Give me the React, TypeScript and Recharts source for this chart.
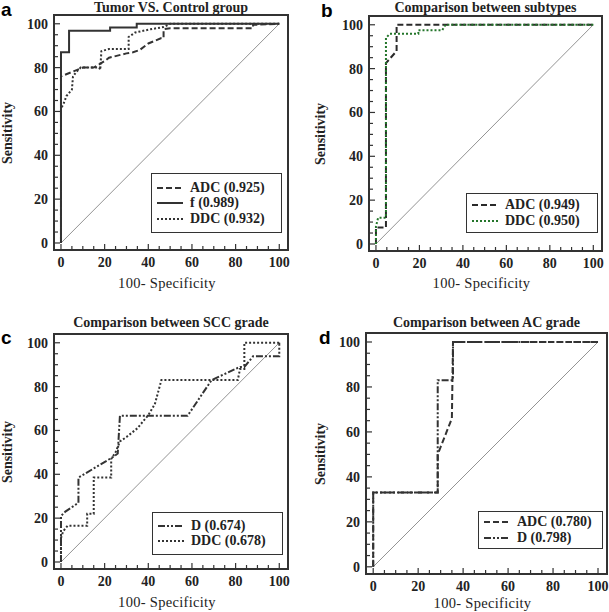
import { LineChart, Line, XAxis, YAxis, ReferenceArea, ReferenceLine } from 'recharts'

type Pt = [number, number]

// --- values (100-specificity, sensitivity) ---
const tumorAdc: Pt[] = [[0, 0], [0, 76], [5, 78], [10, 80], [15, 80], [20, 83], [22, 84.5], [30, 86.5], [33, 87], [36, 88], [40, 91], [46, 93.5], [47, 93.5], [47, 97.5], [50, 98], [88, 98], [88, 99.5], [100, 100]]
const tumorF: Pt[] = [[0, 0], [0, 87], [3.7, 87], [3.7, 96.8], [22.5, 96.8], [22.5, 98.3], [34.7, 98.3], [34.7, 100], [100, 100]]
const tumorDdc: Pt[] = [[0, 0], [0, 61.5], [1, 63], [2.5, 67], [5, 70], [5.5, 76], [7, 78], [9, 80], [17.5, 80], [18, 79], [18.5, 87.5], [22, 88.5], [31, 88.5], [31, 94], [34, 96], [41, 97.5], [47, 98.5], [50, 100], [100, 100]]

const subAdc: Pt[] = [[0, 0], [0, 7.5], [4.6, 7.5], [4.6, 82.5], [9.5, 88], [9.5, 100], [100, 100]]
const subDdc: Pt[] = [[0, 0], [0, 8], [1, 12], [4.6, 12], [4.6, 94], [6.4, 95.9], [19.5, 95.9], [19.5, 97.5], [30.5, 97.5], [32, 100], [100, 100]]

const sccD: Pt[] = [[0, 0], [0, 21], [2, 23], [8, 27], [8, 38.5], [24, 48], [26, 49.5], [27, 66.7], [58, 66.7], [69, 83], [82, 89], [84, 89], [88, 93.8], [100, 93.8], [100, 100]]
const sccDdc: Pt[] = [[0, 0], [0, 11], [1, 14], [3, 16.5], [12, 16.5], [12, 22], [15, 22], [15, 38.5], [23, 38.5], [23, 47], [25, 50], [27, 55], [30, 57], [35, 61], [40, 67], [43, 72], [46, 83], [81, 83], [82, 88], [84, 88], [84, 100], [100, 100]]

const acAdc: Pt[] = [[0, 0], [0, 33], [28.7, 33], [28.7, 50], [35, 66], [35.5, 100], [100, 100]]
const acD: Pt[] = [[0, 0], [0, 33], [28.7, 33], [28.7, 83], [35.5, 83], [35.5, 100], [100, 100]]

const chanceLine = [{ x: 0, y: 0 }, { x: 100, y: 100 }]
const axisTicks = [0, 5, 10, 15, 20, 25, 30, 35, 40, 45, 50, 55, 60, 65, 70, 75, 80, 85, 90, 95, 100]
const labelledTicks = [0, 20, 40, 60, 80, 100]
const DOMAIN: [number, number] = [-3.2, 104]

const INK = '#333'
const GREEN = '#23752a'
const DASH = '6 3'
const DOT = '2 2'
const DASH_DOT = '7 2 2 2 2 2'
const SERIF = '"Liberation Serif", "Times New Roman", serif'
const SANS = '"Liberation Sans", Arial, sans-serif'

type Series = { name: string; pts: Pt[]; color: string; dash?: string }

type PanelProps = {
  letter: string
  title: string
  box: { left: number; top: number; w: number; h: number }
  series: Series[]
  legend: { left: number; top: number; w: number; h: number }
  titleY: number
  letterPos: [number, number]
  yLabelX: number
  xLabelY: number
}

const toPts = (pts: Pt[]) => pts.map(([x, y]) => ({ x, y }))

const YTick = (props: any) => {
  const { x, y, payload } = props
  const v = payload.value
  const major = labelledTicks.includes(v)
  return (
    <g>
      <line x1={x} x2={x + (major ? 6 : 4)} y1={y} y2={y} stroke={INK} strokeWidth={1.2} />
      {major && (
        <text x={x - 6} y={y} dy="0.35em" textAnchor="end" fontFamily={SERIF} fontWeight="bold" fontSize={14} fill="#222">
          {v}
        </text>
      )}
    </g>
  )
}

const XTick = (props: any) => {
  const { x, y, payload } = props
  const v = payload.value
  const major = labelledTicks.includes(v)
  return (
    <g>
      <line x1={x} x2={x} y1={y} y2={y - (major ? 6 : 4)} stroke={INK} strokeWidth={1.2} />
      {major && (
        <text x={x} y={y + 12} dy="0.35em" textAnchor="middle" fontFamily={SERIF} fontWeight="bold" fontSize={14} fill="#222">
          {v}
        </text>
      )}
    </g>
  )
}

function RocPanel({ letter, title, box, series, legend, titleY, letterPos, yLabelX, xLabelY }: PanelProps) {
  const yW = 50
  const mt = 10
  const mr = 10
  const xH = 40
  const cx = box.left + box.w / 2
  const cy = box.top + box.h / 2
  return (
    <>
      <div style={{ position: 'absolute', left: box.left - yW, top: box.top - mt }}>
        <LineChart width={yW + box.w + mr} height={mt + box.h + xH} margin={{ top: mt, right: mr, left: 0, bottom: 0 }}>
          <XAxis
            dataKey="x"
            type="number"
            domain={DOMAIN}
            allowDataOverflow
            ticks={axisTicks}
            interval={0}
            tick={<XTick />}
            tickLine={false}
            axisLine={false}
            tickSize={0}
            tickMargin={0}
            height={xH}
          />
          <YAxis
            dataKey="y"
            type="number"
            domain={DOMAIN}
            allowDataOverflow
            ticks={axisTicks}
            interval={0}
            tick={<YTick />}
            tickLine={false}
            axisLine={false}
            tickSize={0}
            tickMargin={0}
            width={yW}
          />
          <ReferenceLine segment={chanceLine} stroke="#777" strokeWidth={0.8} />
          {series.map((s) => (
            <Line
              key={s.name}
              data={toPts(s.pts)}
              dataKey="y"
              type="linear"
              stroke={s.color}
              strokeWidth={2}
              strokeDasharray={s.dash}
              dot={false}
              isAnimationActive={false}
            />
          ))}
          <ReferenceArea x1={DOMAIN[0]} x2={DOMAIN[1]} y1={DOMAIN[0]} y2={DOMAIN[1]} fill="none" fillOpacity={0} stroke={INK} strokeWidth={2} />
        </LineChart>
      </div>

      <div style={{ position: 'absolute', left: letterPos[0], top: letterPos[1], fontFamily: SANS, fontWeight: 'bold', fontSize: 19, lineHeight: '19px' }}>
        {letter}
      </div>
      <div style={{ position: 'absolute', left: cx, top: titleY, transform: 'translate(-50%, -50%)', whiteSpace: 'nowrap', fontFamily: SERIF, fontWeight: 'bold', fontSize: 14, lineHeight: '16px', color: '#222' }}>
        {title}
      </div>
      <div style={{ position: 'absolute', left: yLabelX, top: cy, transform: 'translate(-50%, -50%) rotate(-90deg)', whiteSpace: 'nowrap', fontFamily: SERIF, fontWeight: 'bold', fontSize: 14, lineHeight: '14px', color: '#222' }}>
        Sensitivity
      </div>
      <div style={{ position: 'absolute', left: cx - 4, top: xLabelY, transform: 'translate(-50%, -50%)', whiteSpace: 'nowrap', fontFamily: SERIF, fontSize: 14.5, lineHeight: '16px', letterSpacing: 0.3, color: '#222' }}>
        100- Specificity
      </div>

      <div
        style={{
          position: 'absolute',
          left: legend.left,
          top: legend.top,
          width: legend.w,
          height: legend.h,
          boxSizing: 'border-box',
          border: `1.5px solid ${INK}`,
          background: '#fff',
          display: 'flex',
          flexDirection: 'column',
          justifyContent: 'center',
          paddingLeft: 5,
        }}
      >
        {series.map((s) => (
          <div key={s.name} style={{ display: 'flex', alignItems: 'center', height: 15.5 }}>
            <svg width={26} height={6} style={{ marginRight: 7 }}>
              <line x1={0} x2={26} y1={3} y2={3} stroke={s.color} strokeWidth={2} strokeDasharray={s.dash} />
            </svg>
            <span style={{ fontFamily: SERIF, fontWeight: 'bold', fontSize: 14, color: '#222', whiteSpace: 'nowrap' }}>{s.name}</span>
          </div>
        ))}
      </div>
    </>
  )
}

export default function App() {
  return (
    <div style={{ position: 'absolute', left: 0, top: 0, width: 609, height: 612, background: '#fff', overflow: 'hidden' }}>
      <RocPanel
        letter="a"
        title="Tumor VS. Control group"
        box={{ left: 54, top: 15, w: 234, h: 235 }}
        series={[
          { name: 'ADC (0.925)', pts: tumorAdc, color: INK, dash: DASH },
          { name: 'f (0.989)', pts: tumorF, color: INK },
          { name: 'DDC (0.932)', pts: tumorDdc, color: INK, dash: DOT },
        ]}
        legend={{ left: 151, top: 173, w: 131, h: 60 }}
        titleY={8}
        letterPos={[1, 0]}
        yLabelX={8}
        xLabelY={283}
      />
      <RocPanel
        letter="b"
        title="Comparison between subtypes"
        box={{ left: 369, top: 16, w: 233, h: 235 }}
        series={[
          { name: 'ADC (0.949)', pts: subAdc, color: '#2a2a2a', dash: DASH },
          { name: 'DDC (0.950)', pts: subDdc, color: GREEN, dash: DOT },
        ]}
        legend={{ left: 466, top: 193, w: 132, h: 40 }}
        titleY={8}
        letterPos={[321, 1]}
        yLabelX={321}
        xLabelY={283}
      />
      <RocPanel
        letter="c"
        title="Comparison between SCC grade"
        box={{ left: 54, top: 334, w: 234, h: 235 }}
        series={[
          { name: 'D (0.674)', pts: sccD, color: INK, dash: DASH_DOT },
          { name: 'DDC (0.678)', pts: sccDdc, color: INK, dash: DOT },
        ]}
        legend={{ left: 152, top: 512, w: 131, h: 43 }}
        titleY={323}
        letterPos={[1, 328]}
        yLabelX={8}
        xLabelY={602}
      />
      <RocPanel
        letter="d"
        title="Comparison between AC grade"
        box={{ left: 366, top: 333, w: 241, h: 241 }}
        series={[
          { name: 'ADC (0.780)', pts: acAdc, color: INK, dash: DASH },
          { name: 'D (0.798)', pts: acD, color: INK, dash: DASH_DOT },
        ]}
        legend={{ left: 478, top: 511, w: 125, h: 38 }}
        titleY={323}
        letterPos={[319, 328]}
        yLabelX={321}
        xLabelY={603}
      />
    </div>
  )
}
